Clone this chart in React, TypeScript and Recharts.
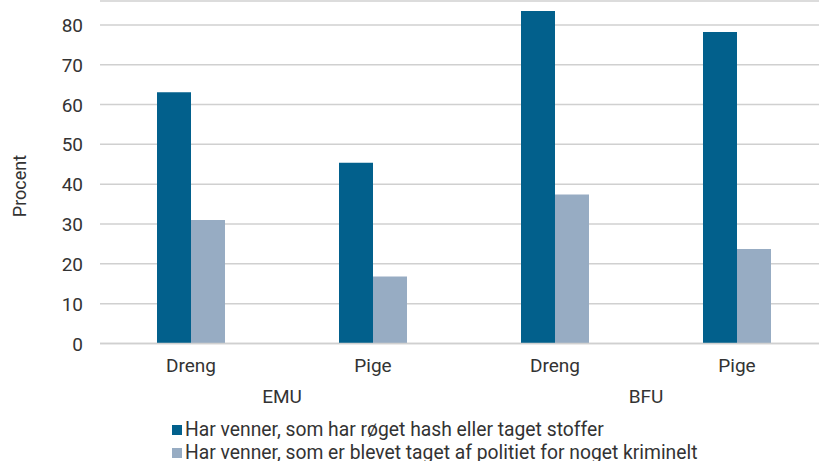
import React from "react";
import { BarChart, Bar, XAxis, YAxis, CartesianGrid, Legend } from "recharts";

const groups = ["EMU", "EMU", "BFU", "BFU"];
const genders = ["Dreng", "Pige", "Dreng", "Pige"];
const hashValues = [63.1, 45.4, 83.5, 78.2];
const policeValues = [31.0, 16.8, 37.4, 23.7];
const yTicks = [0, 10, 20, 30, 40, 50, 60, 70, 80];
const seriesNames = [
  "Har venner, som har røget hash eller taget stoffer",
  "Har venner, som er blevet taget af politiet for noget kriminelt",
];
const colors = ["#02608C", "#97ACC3"];

const data = genders.map((g, i) => ({
  gender: g,
  group: groups[i],
  hash: hashValues[i],
  police: policeValues[i],
}));

const FONT = "Roboto, 'Noto Sans', sans-serif";
const TEXT = "#333";
const WEIGHT = 400;

const GenderTick = (props: any) => {
  const { x, y, payload } = props;
  return (
    <text x={x} y={y} dy={20} textAnchor="middle" fill={TEXT} fontSize={19} fontWeight={WEIGHT} fontFamily={FONT}>
      {payload.value}
    </text>
  );
};

const GroupTick = (props: any) => {
  const { x, y, payload } = props;
  return (
    <text x={x} y={y} dy={21} textAnchor="middle" fill={TEXT} fontSize={19} fontWeight={WEIGHT} fontFamily={FONT}>
      {payload.value}
    </text>
  );
};

const YTick = (props: any) => {
  const { x, y, payload } = props;
  return (
    <text x={x} y={y} dy={7} textAnchor="end" fill={TEXT} fontSize={19} fontWeight={WEIGHT} fontFamily={FONT}>
      {payload.value}
    </text>
  );
};

const LegendContent = () => (
  <div style={{ fontFamily: FONT, fontSize: 19.3, fontWeight: WEIGHT, color: TEXT, lineHeight: "23px" }}>
    {seriesNames.map((n, i) => (
      <div key={n} style={{ display: "flex", alignItems: "center", whiteSpace: "nowrap" }}>
        <span
          style={{
            display: "inline-block",
            width: 10,
            height: 10,
            background: colors[i],
            marginRight: 3,
          }}
        />
        <span>{n}</span>
      </div>
    ))}
  </div>
);

export default function App() {
  return (
    <div
      style={{
        position: "absolute",
        left: 0,
        top: 0,
        width: 819,
        height: 461,
        overflow: "hidden",
        background: "#fff",
      }}
    >
      <BarChart
        width={840}
        height={461}
        data={data}
        margin={{ top: 1, right: 12, left: 0, bottom: 52.5 }}
        barGap={0}
        barSize={34}
      >
        <CartesianGrid vertical={false} stroke="#D0D0D0" strokeWidth={1.5} />
        <YAxis
          width={100}
          domain={[0, 86]}
          ticks={yTicks}
          axisLine={false}
          tickLine={false}
          tickMargin={11}
          tick={<YTick />}
          allowDataOverflow
          label={{
            content: (p: any) => {
              const vb = p.viewBox;
              const cx = vb.x + 19;
              const cy = 186;
              return (
                <text
                  x={cx}
                  y={cy}
                  transform={`rotate(-90 ${cx} ${cy})`}
                  textAnchor="middle"
                  dominantBaseline="central"
                  fill={TEXT}
                  fontSize={18}
                  fontWeight={WEIGHT}
                  fontFamily={FONT}
                >
                  Procent
                </text>
              );
            },
          }}
        />
        <XAxis
          dataKey="gender"
          height={30}
          axisLine={{ stroke: "#D0D0D0", strokeWidth: 1.5 }}
          tickLine={false}
          tick={<GenderTick />}
          interval={0}
        />
        <XAxis
          xAxisId="group"
          dataKey="group"
          allowDuplicatedCategory={false}
          height={35}
          axisLine={false}
          tickLine={false}
          tick={<GroupTick />}
          interval={0}
        />
        <Legend
          verticalAlign="middle"
          align="center"
          layout="horizontal"
          wrapperStyle={{ top: 418, left: 172, width: 640 }}
          content={<LegendContent />}
        />
        <Bar dataKey="hash" name={seriesNames[0]} fill={colors[0]} isAnimationActive={false} />
        <Bar dataKey="police" name={seriesNames[1]} fill={colors[1]} isAnimationActive={false} />
      </BarChart>
    </div>
  );
}
